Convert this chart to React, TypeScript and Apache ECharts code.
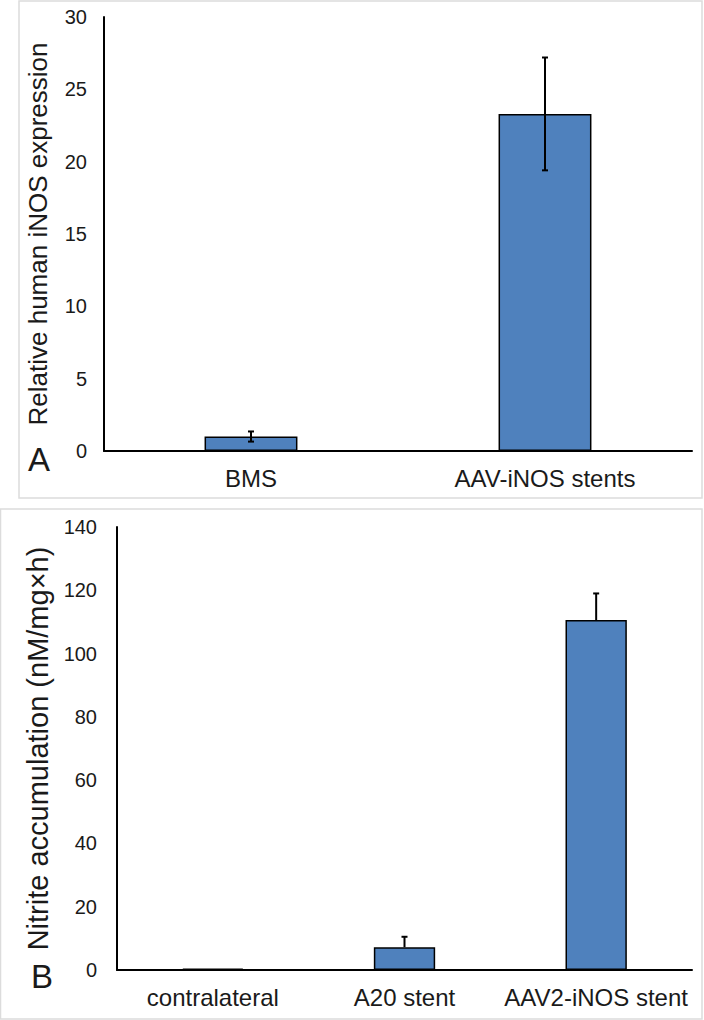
import React, { useEffect, useRef } from "react";
import * as echarts from "echarts";

const catsA = ["BMS", "AAV-iNOS stents"];
const valsA = [1.0, 23.3];
const errA = [0.35, 3.9];
const ticksA = { min: 0, max: 30, interval: 5 };

const catsB = ["contralateral", "A20 stent", "AAV2-iNOS stent"];
const valsB = [0.4, 7.2, 110.6];
const errB = [0, 3.3, 8.4];
const ticksB = { min: 0, max: 140, interval: 20 };

const FONT = "'Liberation Sans', Arial, sans-serif";
const BLUE = "#4f81bd";

function errRender(both: boolean) {
  return (params: any, api: any) => {
    const i = api.value(0);
    const v = api.value(1);
    const e = api.value(2);
    if (!e) return { type: "group", children: [] };
    const hi = api.coord([i, v + e]);
    const lo = api.coord([i, both ? v - e : v]);
    const cap = 3;
    const style = { stroke: "#000", lineWidth: 2 };
    const children: any[] = [
      { type: "line", shape: { x1: hi[0], y1: hi[1], x2: lo[0], y2: lo[1] }, style },
      { type: "line", shape: { x1: hi[0] - cap, y1: hi[1], x2: hi[0] + cap, y2: hi[1] }, style },
    ];
    if (both) {
      children.push({ type: "line", shape: { x1: lo[0] - cap, y1: lo[1], x2: lo[0] + cap, y2: lo[1] }, style });
    }
    return { type: "group", children };
  };
}

export default function App() {
  const ref = useRef<HTMLDivElement>(null);
  useEffect(() => {
    if (!ref.current) return;
    const chart = echarts.init(ref.current, null, { renderer: "svg" });
    const yAxisCommon = {
      type: "value",
      axisLine: { show: true, lineStyle: { color: "#000", width: 2 } },
      axisTick: { show: false },
      splitLine: { show: false },
      axisLabel: { fontSize: 20, color: "#1a1a1a", fontFamily: FONT },
      nameLocation: "middle",
    };
    const xAxisCommon = {
      type: "category",
      axisLine: { show: true, lineStyle: { color: "#000", width: 2 } },
      axisTick: { show: false },
      axisLabel: { fontSize: 24, color: "#1a1a1a", fontFamily: FONT, margin: 15, interval: 0 },
    };
    chart.setOption({
      animation: false,
      backgroundColor: "#fff",
      grid: [
        { left: 104, right: 12, top: 17, bottom: 569 },
        { left: 117, right: 12, top: 527, bottom: 50 },
      ],
      xAxis: [
        { ...xAxisCommon, gridIndex: 0, data: catsA },
        { ...xAxisCommon, gridIndex: 1, data: catsB },
      ],
      yAxis: [
        {
          ...yAxisCommon, gridIndex: 0, ...ticksA,
          name: "Relative human iNOS expression", nameGap: 53,
          nameTextStyle: { fontSize: 26, color: "#1a1a1a", fontFamily: FONT },
          axisLabel: { ...yAxisCommon.axisLabel, margin: 17 },
        },
        {
          ...yAxisCommon, gridIndex: 1, ...ticksB,
          name: "Nitrite accumulation (nM/mg×h)", nameGap: 62,
          nameTextStyle: { fontSize: 29, color: "#1a1a1a", fontFamily: FONT },
          axisLabel: { ...yAxisCommon.axisLabel, margin: 20 },
        },
      ],
      series: [
        {
          type: "bar",
          xAxisIndex: 0,
          yAxisIndex: 0,
          data: valsA,
          barWidth: "31.6%",
          itemStyle: { color: BLUE, borderColor: "#000", borderWidth: 1.5 },
        },
        {
          type: "custom",
          xAxisIndex: 0,
          yAxisIndex: 0,
          data: valsA.map((v, i) => [i, v, errA[i]]),
          renderItem: errRender(true),
          z: 10,
        },
        {
          type: "bar",
          xAxisIndex: 1,
          yAxisIndex: 1,
          data: valsB,
          barWidth: "32%",
          itemStyle: { color: BLUE, borderColor: "#000", borderWidth: 1.5 },
        },
        {
          type: "custom",
          xAxisIndex: 1,
          yAxisIndex: 1,
          data: valsB.map((v, i) => [i, v, errB[i]]),
          renderItem: errRender(false),
          z: 10,
        },
      ],
      graphic: [
        { type: "rect", shape: { x: 19, y: 1, width: 683, height: 497 }, style: { fill: "none", stroke: "#dcdcdc", lineWidth: 1.5 }, z: -1 },
        { type: "rect", shape: { x: 0.5, y: 509, width: 701.5, height: 510 }, style: { fill: "none", stroke: "#dcdcdc", lineWidth: 1.5 }, z: -1 },
        { type: "text", left: 28, top: 443, style: { text: "A", fontSize: 33, fill: "#1a1a1a", fontFamily: FONT } },
        { type: "text", left: 31, top: 960, style: { text: "B", fontSize: 33, fill: "#1a1a1a", fontFamily: FONT } },
      ],
    });
    return () => chart.dispose();
  }, []);
  return <div ref={ref} style={{ position: "fixed", left: 0, top: 0, width: 704, height: 1020 }} />;
}
